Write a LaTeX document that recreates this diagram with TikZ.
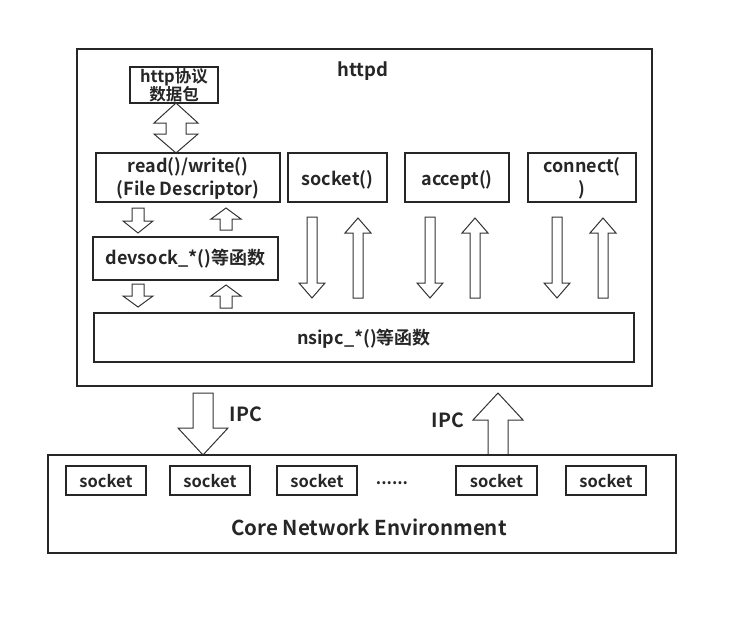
\documentclass[tikz,border=0pt]{standalone}
\usepackage{fontspec}
\setmainfont{Noto Sans CJK SC}[BoldFont={* Bold}]
\newfontfamily\cjkb{Noto Sans CJK SC Bold}
\newcommand\barrow[6]{% x, ytail, ybase, ytip, shaft half, head half
  \draw[arrowline] ({#1-#5},#2) -- ({#1-#5},#3) -- ({#1-#6},#3) -- (#1,#4) -- ({#1+#6},#3) -- ({#1+#5},#3) -- ({#1+#5},#2) -- cycle;}
\begin{document}
\begin{tikzpicture}[x=1pt,y=-1pt,
  box/.style={draw=black!85,line width=1.7pt,inner sep=0pt},
  lab/.style={font=\cjkb\fontsize{18}{20}\selectfont,text=black!85,align=center},
  slab/.style={font=\cjkb\fontsize{16.5}{18}\selectfont,text=black!85},
  arrowline/.style={draw=black!80,line width=1pt,fill=white,line join=miter}]
\useasboundingbox (0,0) rectangle (739,616);
% outer httpd box
\draw[box] (77,49) rectangle (652,386);
\node[lab,font=\cjkb\fontsize{18.5}{20}\selectfont] (httpd) at (363,71) {httpd};
% http packet box
\draw[box] (130,67) rectangle (218,103);
\node[lab,font=\cjkb\fontsize{16.5}{16}\selectfont] (pkt) at (174,85.5) {http协议\\[-1pt]数据包};
% double arrow
\draw[arrowline] (176,103) -- (154,123) -- (166,123) -- (166,134) -- (154,134) -- (176,153) -- (198,134) -- (186,134) -- (186,123) -- (198,123) -- cycle;
% upper function boxes
\draw[box] (96,153) rectangle (280,202);
\node[lab,font=\cjkb\fontsize{18}{23}\selectfont] (rw) at (188,178) {read()/write()\\(File Descriptor)};
\draw[box] (288,153) rectangle (387,202);
\node[lab] (sock) at (337.5,180) {socket()};
\draw[box] (405,153) rectangle (509,202);
\node[lab] (acc) at (457,180) {accept()};
\draw[box] (528,153) rectangle (636,202);
\node[lab,font=\cjkb\fontsize{18}{23}\selectfont] (con) at (582,178) {connect(\\)};
% devsock box
\draw[box] (93,237) rectangle (278,280);
\node[lab] (dev) at (185.5,259) {devsock\_*()等函数};
% small arrows
\barrow{138}{208}{221}{233}{6}{15}
\barrow{226}{230}{219}{208}{6}{15}
\barrow{138}{284}{296}{307}{6}{15}
\barrow{226}{308}{296}{285}{6}{15}
% nsipc box
\draw[box] (94,313) rectangle (634,362);
\node[lab] (ns) at (364,339) {nsipc\_*()等函数};
% long arrows
\barrow{312}{217}{283}{298}{5}{13}
\barrow{358}{298}{233}{218}{5}{13}
\barrow{430}{217}{283}{298}{5}{13}
\barrow{475}{298}{233}{218}{5}{13}
\barrow{557}{217}{283}{298}{5}{13}
\barrow{603}{298}{233}{218}{5}{13}
% IPC arrows
\barrow{203}{393}{428}{455}{10}{25}
\node[lab,font=\cjkb\fontsize{19.5}{21}\selectfont] (ipc1) at (246,414) {IPC};
\barrow{498}{455}{420}{393}{10}{25}
\node[lab,font=\cjkb\fontsize{19.5}{21}\selectfont] (ipc2) at (448,420) {IPC};
% core box
\draw[box] (48,455) rectangle (676,553);
\foreach \a/\b [count=\i] in {66/146,170/250,277/357,456/537,566/646}{
  \draw[box] (\a,466) rectangle (\b,495);
  \node[slab] (s\i) at ({(\a+\b)/2},481) {socket};
}
\node[slab] (dots) at (392,483) {......};
\node[font=\fontsize{20.5}{22}\selectfont\bfseries,text=black!85] (core) at (369,527) {Core Network Environment};
\end{tikzpicture}
\end{document}
